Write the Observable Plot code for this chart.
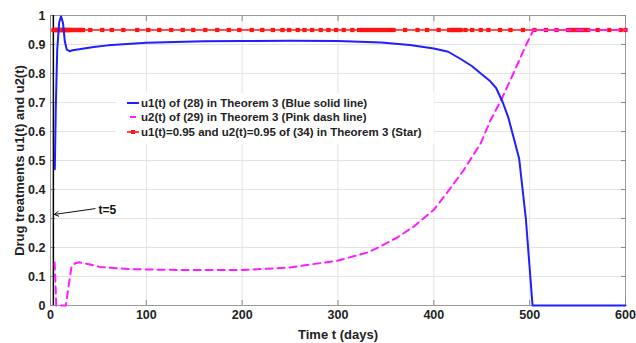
<!DOCTYPE html>
<html>
<head>
<meta charset="utf-8">
<script src="https://cdn.jsdelivr.net/npm/d3@7"></script>
<script src="https://cdn.jsdelivr.net/npm/@observablehq/plot@0.6"></script>
<style>
  html, body { margin: 0; padding: 0; background: #fff; }
  #wrap { position: relative; width: 636px; height: 343px; font-family: "Liberation Sans", Arial, sans-serif; }
  #legend { position: absolute; left: 116px; top: 93px; width: 318px; height: 51px; background: #fff;
            font-weight: bold; font-size: 11.5px; color: #222; }
  #legend .row { position: absolute; left: 10px; height: 14px; display: flex; align-items: center; white-space: nowrap; }
  #legend svg { display: block; margin-right: 1px; }
</style>
</head>
<body>
<div id="wrap"><div id="chart"></div><div id="legend"></div></div>
<script>
// ---- data ----
const blueT = [4.5, 5.5, 7, 9, 11, 13, 15, 17, 20, 23, 30, 45, 60, 80, 100, 130, 160, 200, 250, 300, 345, 375, 400, 415, 428, 440, 449, 458, 465, 472, 478, 484, 489, 496, 503, 600];
const blueU = [0.47, 0.68, 0.88, 0.975, 0.997, 0.975, 0.91, 0.882, 0.877, 0.880, 0.884, 0.891, 0.897, 0.902, 0.906, 0.909, 0.911, 0.912, 0.913, 0.912, 0.907, 0.898, 0.886, 0.875, 0.85, 0.825, 0.80, 0.776, 0.75, 0.70, 0.645, 0.57, 0.507, 0.30, 0, 0];

const pinkT = [4.3, 5, 6, 10, 16, 19, 22, 26, 30, 40, 52, 70, 87, 120, 156, 200, 250, 300, 331, 344, 362, 379, 400, 414, 431, 449, 459, 470, 483, 496, 504, 600];
const pinkU = [0.148, 0.09, 0, 0, 0, 0.07, 0.135, 0.146, 0.149, 0.142, 0.133, 0.128, 0.125, 0.123, 0.122, 0.122, 0.131, 0.155, 0.183, 0.203, 0.235, 0.272, 0.33, 0.39, 0.466, 0.56, 0.638, 0.707, 0.80, 0.897, 0.95, 0.95];

const starLevel = 0.95;
const starT = [3, 4, 5, 6, 7, 8, 9, 10, 11, 12, 13, 14, 15, 16, 17, 18, 19, 20, 22, 24, 26, 28, 30, 32, 34,
  41.5, 54, 64, 76, 90.5, 102, 113.5, 126, 138, 149, 161.5, 174, 186, 197, 210, 221, 232, 242, 249, 258, 265, 273, 282, 290, 298, 306, 315,
  322, 325, 328, 331, 334, 337, 340, 343, 346, 349, 352, 355, 358, 370, 383, 393, 405,
  416, 418, 420, 422, 424, 426, 428, 433, 440, 449, 457, 469, 480, 493, 505, 517, 528,
  540, 543, 546, 549, 552, 555, 558, 561, 571, 583, 595, 600];

const markerLineT = 3;           // black vertical line
const annotation = {label: "t=5", tx: 50, ty: 0.328, x1: 46.5, y1: 0.334, x2: 4, y2: 0.314};

const xTicks = [0, 100, 200, 300, 400, 500, 600];
const yTicks = [0, 0.1, 0.2, 0.3, 0.4, 0.5, 0.6, 0.7, 0.8, 0.9, 1];
const xLabel = "Time t (days)";
const yLabel = "Drug treatments u1(t) and u2(t)";
const legendLabels = [
  "u1(t) of (28) in Theorem 3 (Blue solid line)",
  "u2(t) of (29) in Theorem 3 (Pink dash line)",
  "u1(t)=0.95 and u2(t)=0.95 of (34) in Theorem 3 (Star)"
];
const colors = {u1: "#1f1fff", u2: "#ff1aff", star: "#ff1414"};

// ---- build tables ----
const blue = blueT.map((t, i) => ({t, u: blueU[i]}));
const pink = pinkT.map((t, i) => ({t, u: pinkU[i]}));
const stars = starT.map(t => ({t, u: starLevel}));
const yFmt = d => d === 0 ? "0" : d === 1 ? "1" : d3.format(".1f")(d);

const chart = Plot.plot({
  width: 636,
  height: 343,
  marginLeft: 50,
  marginRight: 11,
  marginTop: 15,
  marginBottom: 38,
  style: {fontFamily: "Liberation Sans, Arial, sans-serif", fontWeight: "bold", fontSize: "12px", color: "#222", background: "#fff"},
  x: {domain: [0, 600]},
  y: {domain: [0, 1]},
  marks: [
    Plot.gridX(xTicks, {stroke: "#e3e3e3", strokeOpacity: 1}),
    Plot.gridY(yTicks, {stroke: "#e3e3e3", strokeOpacity: 1}),
    Plot.frame({stroke: "#9a9a9a"}),
    Plot.axisX(xTicks, {anchor: "bottom", tickSize: -5, tickPadding: 10, stroke: "#8a8a8a", fill: "#222",
      label: xLabel, labelAnchor: "center", labelOffset: 33, labelArrow: "none", fontSize: 12.5}),
    Plot.axisX(xTicks, {anchor: "top", tickSize: -5, tickFormat: () => "", stroke: "#8a8a8a", label: null}),
    Plot.axisY(yTicks, {anchor: "left", tickSize: -5, tickPadding: 10, tickFormat: yFmt, stroke: "#8a8a8a", fill: "#222",
      label: yLabel, labelAnchor: "center", labelOffset: 36, labelArrow: "none", fontSize: 12.5}),
    Plot.axisY(yTicks, {anchor: "right", tickSize: -5, tickFormat: () => "", stroke: "#8a8a8a", label: null}),
    Plot.ruleX([markerLineT], {y1: 0, y2: 1, stroke: "#000", strokeWidth: 1.5}),
    Plot.line(stars, {x: "t", y: "u", stroke: colors.star, strokeWidth: 1.6}),
    Plot.dot(stars, {x: "t", y: "u", symbol: "square", r: 2.4, fill: colors.star, stroke: "none"}),
    Plot.line(pink, {x: "t", y: "u", stroke: colors.u2, strokeWidth: 2, strokeDasharray: "7,5"}),
    Plot.line(blue, {x: "t", y: "u", stroke: colors.u1, strokeWidth: 2}),
    Plot.arrow([annotation], {x1: "x1", y1: "y1", x2: "x2", y2: "y2", stroke: "#111", strokeWidth: 1, headLength: 7}),
    Plot.text([annotation], {x: "tx", y: "ty", text: "label", textAnchor: "start", fontWeight: "bold", fontSize: 12, fill: "#111"})
  ]
});
document.getElementById("chart").appendChild(chart);

// make the axis titles a bit larger, as in the reference
chart.querySelectorAll("[aria-label='x-axis label'] text, [aria-label='y-axis label'] text").forEach(t => t.setAttribute("font-size", "13"));

// ---- legend ----
const legend = document.getElementById("legend");
const swatches = [
  `<svg width="14" height="6"><line x1="1" y1="3" x2="13" y2="3" stroke="${colors.u1}" stroke-width="2"/></svg>`,
  `<svg width="14" height="6"><line x1="4" y1="3" x2="10" y2="3" stroke="${colors.u2}" stroke-width="2"/></svg>`,
  `<svg width="14" height="6"><line x1="1" y1="3" x2="13" y2="3" stroke="${colors.star}" stroke-width="1.6"/><rect x="5" y="1" width="4" height="4" fill="${colors.star}"/></svg>`
];
const rowTops = [3, 17, 32];
legendLabels.forEach((lab, i) => {
  const row = document.createElement("div");
  row.className = "row";
  row.style.top = rowTops[i] + "px";
  row.innerHTML = swatches[i] + "<span>" + lab + "</span>";
  legend.appendChild(row);
});
</script>
</body>
</html>
